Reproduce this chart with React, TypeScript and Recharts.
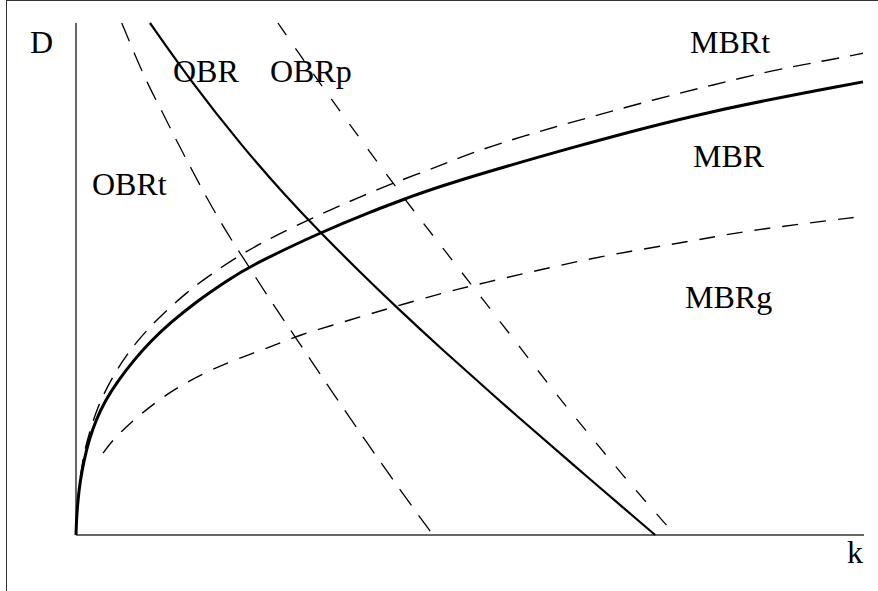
import { Customized, Line, LineChart, ReferenceLine, XAxis, YAxis } from "recharts";

// k on the horizontal axis, D on the vertical, both on a 0..100 scale
const mbr = [
  { k: 0, D: 0 }, { k: 0.06, D: 2.93 }, { k: 0.25, D: 6.84 }, { k: 0.51, D: 10.35 },
  { k: 1.02, D: 14.65 }, { k: 1.65, D: 18.55 }, { k: 2.54, D: 22.46 }, { k: 3.68, D: 26.17 },
  { k: 5.2, D: 29.88 }, { k: 7.36, D: 34.18 }, { k: 9.39, D: 37.7 }, { k: 11.93, D: 41.41 },
  { k: 15.36, D: 45.7 }, { k: 19.29, D: 49.8 }, { k: 22.08, D: 52.54 }, { k: 31.18, D: 59.2 },
  { k: 37.31, D: 63.1 }, { k: 42.39, D: 66.0 }, { k: 46.19, D: 68.2 }, { k: 63.07, D: 75.8 },
  { k: 80.08, D: 82.8 }, { k: 99.87, D: 88.5 },
];

const mbrT = [
  { k: 0, D: 0 }, { k: 0.06, D: 2.9 }, { k: 0.25, D: 7.2 }, { k: 0.51, D: 11.0 },
  { k: 1.0, D: 16.0 }, { k: 1.61, D: 19.5 }, { k: 2.79, D: 25.4 }, { k: 4.7, D: 31.05 },
  { k: 6.85, D: 36.3 }, { k: 10.15, D: 42.0 }, { k: 13.96, D: 47.3 }, { k: 17.0, D: 50.8 },
  { k: 20.81, D: 54.7 }, { k: 24.24, D: 57.6 }, { k: 28.05, D: 60.5 }, { k: 32.23, D: 63.5 },
  { k: 36.04, D: 66.0 }, { k: 40.23, D: 68.75 }, { k: 46.19, D: 72.1 }, { k: 50.38, D: 74.8 },
  { k: 57.99, D: 78.5 }, { k: 65.23, D: 81.6 }, { k: 73.22, D: 85.0 }, { k: 80.84, D: 87.9 },
  { k: 88.45, D: 90.8 }, { k: 95.69, D: 92.8 }, { k: 99.87, D: 94.1 },
];

const mbrG = [
  { k: 3.43, D: 16.0 }, { k: 4.7, D: 18.6 }, { k: 6.22, D: 20.9 }, { k: 7.74, D: 23.0 },
  { k: 9.39, D: 25.0 }, { k: 10.91, D: 26.8 }, { k: 12.82, D: 28.7 }, { k: 14.21, D: 29.9 },
  { k: 17.01, D: 32.2 }, { k: 20.81, D: 34.6 }, { k: 24.62, D: 36.7 }, { k: 28.43, D: 39.1 },
  { k: 32.61, D: 41.0 }, { k: 36.93, D: 43.0 }, { k: 41.12, D: 44.9 }, { k: 47.08, D: 47.5 },
  { k: 51.65, D: 49.2 }, { k: 58.88, D: 51.8 }, { k: 67.39, D: 54.7 }, { k: 76.65, D: 57.0 },
  { k: 84.26, D: 59.2 }, { k: 92.77, D: 60.9 }, { k: 99.11, D: 62.1 },
];

const obr = [
  { k: 9.39, D: 100 }, { k: 14.26, D: 89.26 }, { k: 21.14, D: 75.78 }, { k: 26.72, D: 66.02 },
  { k: 30.95, D: 59.18 }, { k: 36.15, D: 51.17 }, { k: 40.77, D: 44.34 }, { k: 46.1, D: 36.72 },
  { k: 54.64, D: 25.0 }, { k: 62.82, D: 14.06 }, { k: 73.5, D: 0 },
];

const obrT = [
  { k: 5.8, D: 100 }, { k: 7.49, D: 93.75 }, { k: 9.14, D: 87.9 }, { k: 11.04, D: 82.4 },
  { k: 12.82, D: 76.8 }, { k: 14.72, D: 71.3 }, { k: 17.13, D: 64.3 }, { k: 19.8, D: 57.4 },
  { k: 21.83, D: 52.7 }, { k: 24.11, D: 47.1 }, { k: 28.43, D: 37.3 }, { k: 32.61, D: 27.7 },
  { k: 36.93, D: 18.0 }, { k: 41.12, D: 8.8 }, { k: 45.3, D: 0 },
];

const obrP = [
  { k: 25.63, D: 100 }, { k: 28.43, D: 93.75 }, { k: 31.22, D: 87.7 }, { k: 34.14, D: 81.4 },
  { k: 37.31, D: 74.8 }, { k: 40.48, D: 68.2 }, { k: 43.65, D: 61.7 }, { k: 46.83, D: 55.5 },
  { k: 50.0, D: 49.2 }, { k: 52.79, D: 43.75 }, { k: 57.87, D: 33.6 }, { k: 61.04, D: 27.3 },
  { k: 64.34, D: 21.1 }, { k: 69.67, D: 11.1 }, { k: 75.13, D: 1.6 }, { k: 76.02, D: 0 },
];

const labels = [
  { text: "D", x: 30, y: 53 },
  { text: "k", x: 847, y: 563 },
  { text: "OBR", x: 173, y: 82 },
  { text: "OBRp", x: 270, y: 82 },
  { text: "OBRt", x: 92, y: 195 },
  { text: "MBRt", x: 690, y: 53 },
  { text: "MBR", x: 693, y: 167 },
  { text: "MBRg", x: 685, y: 308 },
];

const serif = "'Liberation Serif', 'Times New Roman', Times, serif";

function Labels() {
  return (
    <g>
      {labels.map((l) => (
        <text key={l.text} x={l.x} y={l.y} fontSize={32} fill="#000" style={{ fontFamily: serif }}>
          {l.text}
        </text>
      ))}
    </g>
  );
}

export default function App() {
  return (
    <div style={{ position: "absolute", left: 0, top: 0, width: 878, height: 591, background: "#fff", fontFamily: serif }}>
      <div style={{ position: "absolute", left: 6, top: 0, width: 872, height: 591, borderTop: "1.5px solid #333", borderLeft: "1.5px solid #333" }} />
      <LineChart width={878} height={591} margin={{ top: 23, right: 14, bottom: 56, left: 76 }} style={{ position: "absolute", left: 0, top: 0 }}>
        <XAxis type="number" dataKey="k" domain={[0, 100]} hide />
        <YAxis type="number" dataKey="D" domain={[0, 100]} hide />
        <ReferenceLine x={0} stroke="#333" strokeWidth={1.5} />
        <ReferenceLine y={0} stroke="#333" strokeWidth={1.5} />
        <Line data={mbrT} dataKey="D" type="basis" stroke="#000" strokeWidth={1.4} strokeDasharray="18 11" dot={false} isAnimationActive={false} />
        <Line data={mbrG} dataKey="D" type="basis" stroke="#000" strokeWidth={1.4} strokeDasharray="16 12" dot={false} isAnimationActive={false} />
        <Line data={obrT} dataKey="D" type="basis" stroke="#000" strokeWidth={1.3} strokeDasharray="20 12" dot={false} isAnimationActive={false} />
        <Line data={obrP} dataKey="D" type="basis" stroke="#000" strokeWidth={1.3} strokeDasharray="15 16" dot={false} isAnimationActive={false} />
        <Line data={obr} dataKey="D" type="basis" stroke="#000" strokeWidth={2.2} dot={false} isAnimationActive={false} />
        <Line data={mbr} dataKey="D" type="basis" stroke="#000" strokeWidth={3} dot={false} isAnimationActive={false} />
        <Customized component={<Labels />} />
      </LineChart>
    </div>
  );
}
